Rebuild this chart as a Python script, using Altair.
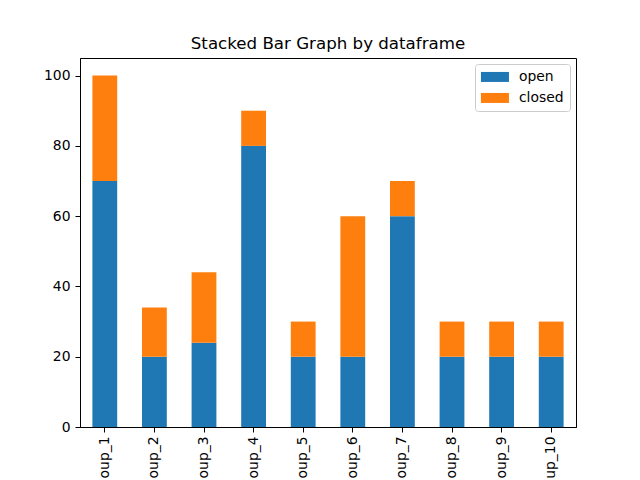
import altair as alt
import pandas as pd

groups = ["oup_1", "oup_2", "oup_3", "oup_4", "oup_5", "oup_6", "oup_7", "oup_8", "oup_9", "up_10"]
open_vals = [70, 20, 24, 80, 20, 20, 60, 20, 20, 20]
closed_vals = [30, 14, 20, 10, 10, 40, 10, 10, 10, 10]
statuses = ["open", "closed"]
colors = ["#1f77b4", "#ff7f0e"]
y_ticks = [0, 20, 40, 60, 80, 100]

rows = []
for g, o, c in zip(groups, open_vals, closed_vals):
    rows.append({"group": g, "status": "open", "value": o, "ord": 0})
    rows.append({"group": g, "status": "closed", "value": c, "ord": 1})
df = pd.DataFrame(rows)

FONT = "DejaVu Sans"

chart = alt.Chart(df).mark_bar().encode(
    x=alt.X("group:N", sort=groups,
            scale=alt.Scale(paddingInner=0.5, paddingOuter=0.25),
            axis=alt.Axis(title=None, labelAngle=270, labelPadding=4)),
    y=alt.Y("value:Q", stack="zero",
            scale=alt.Scale(domain=[0, 105], nice=False),
            axis=alt.Axis(title=None, values=y_ticks, labelPadding=5)),
    color=alt.Color("status:N", scale=alt.Scale(domain=statuses, range=colors),
                    legend=alt.Legend(title=None, orient="none", legendX=395, legendY=6,
                                      strokeColor="#cccccc", fillColor="white",
                                      cornerRadius=3, padding=6,
                                      symbolType="M-2.8,-1L2.8,-1L2.8,1L-2.8,1Z",
                                      symbolSize=100, symbolOffset=7, symbolStrokeWidth=0,
                                      symbolOpacity=1,
                                      labelOffset=17, rowPadding=6,
                                      labelFont=FONT, labelFontSize=13.9, labelColor="black")),
    order=alt.Order("ord:Q"),
).properties(
    width=496, height=369,
    title=alt.Title("Stacked Bar Graph by dataframe", fontSize=16.67, fontWeight="normal",
                    font=FONT, color="black", offset=8, baseline="alphabetic", dy=16),
    padding={"left": 72, "top": 50, "right": 56, "bottom": 53},
    autosize="none",
).configure_view(
    stroke="black", strokeWidth=1
).configure_axis(
    grid=False, domainColor="black", tickColor="black", tickSize=5,
    labelColor="black", labelFont=FONT, labelFontSize=13.9,
)

chart.save("out.html", embed_options={"renderer": "svg", "actions": False})
